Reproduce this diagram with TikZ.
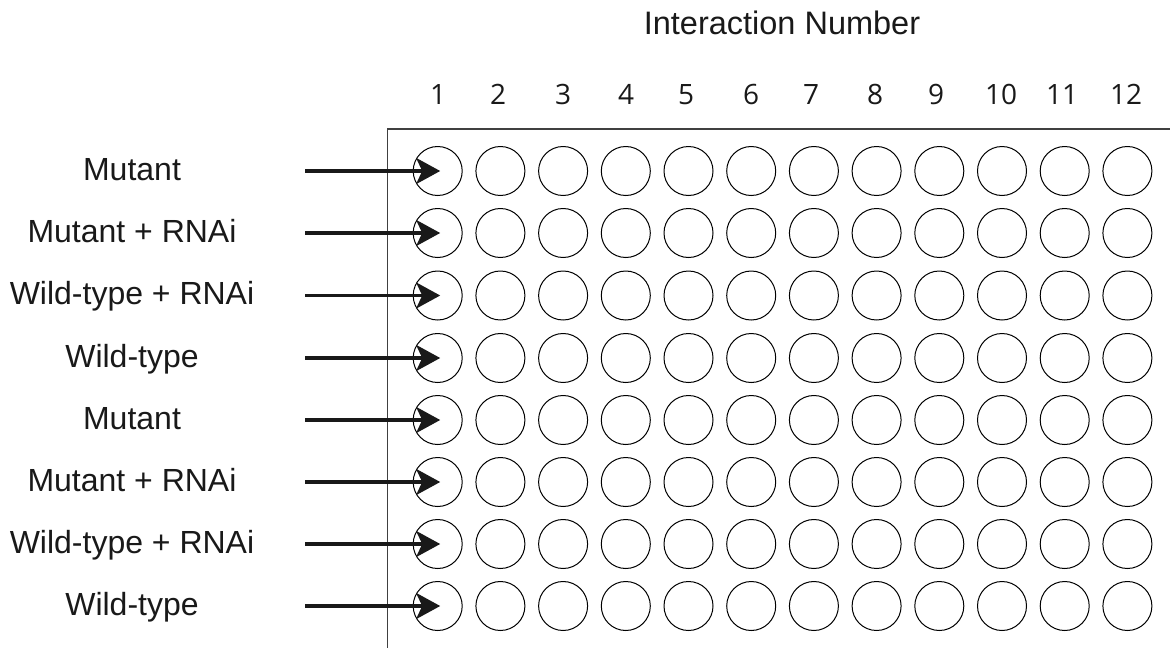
\documentclass[tikz,border=0pt]{standalone}
\usepackage{fontspec}
\setmainfont{Liberation Sans}
\newfontfamily\numfont{Open Sans}
\usetikzlibrary{arrows.meta}
\begin{document}
\begin{tikzpicture}[x=1pt,y=-1pt,
  well/.style={draw=black,line width=1pt,circle,minimum size=49pt,inner sep=0pt},
  rowlabel/.style={anchor=base,inner sep=0pt,font=\fontsize{32}{38}\selectfont,text=black!90},
  colnum/.style={anchor=base,inner sep=0pt,font=\numfont\fontsize{28}{34}\selectfont,text=black!90},
  frame/.style={draw=black!75,line width=1.6pt},
  arr/.style={draw=black!90,line width=3.2pt,-{Stealth[length=24pt,width=26pt,inset=6pt]}}]
\useasboundingbox (0,0) rectangle (1170,648);
% plate frame
\coordinate (fr-tl) at (387.5,129);
\coordinate (fr-tr) at (1170,129);
\coordinate (fr-bl) at (387.5,648);
\draw[frame] (fr-tr) -- (fr-tl) -- (fr-bl);
% title
\node[rowlabel,font=\fontsize{32.5}{38}\selectfont] (title) at (782,34) {Interaction Number};
% column numbers
\foreach \n/\x in {1/438,2/498,3/563,4/626,5/686,6/751,7/811,8/875,9/936,10/1001,11/1062,12/1126}
  \node[colnum] (num-\n) at (\x,104) {\n};
% wells
\foreach \r/\y in {1/171,2/233,3/295.5,4/358,5/420,6/482,7/544,8/606}{
  \foreach \c in {1,...,12}
    \node[well] (c-\r-\c) at ({437.7+62.7*(\c-1)},\y) {};
}
% row labels and arrows
\foreach \r/\y/\t in {1/171/Mutant,2/233/Mutant + RNAi,3/295.5/Wild-type + RNAi,4/358/Wild-type,5/420/Mutant,6/482/Mutant + RNAi,7/544/Wild-type + RNAi,8/606/Wild-type}{
  \node[rowlabel] (lab-\r) at (132,\y+9) {\t};
  \coordinate (s-\r) at (305,\y);
  \draw[arr] (s-\r) -- ([xshift=2.5pt]c-\r-1.center);
}
\end{tikzpicture}
\end{document}
